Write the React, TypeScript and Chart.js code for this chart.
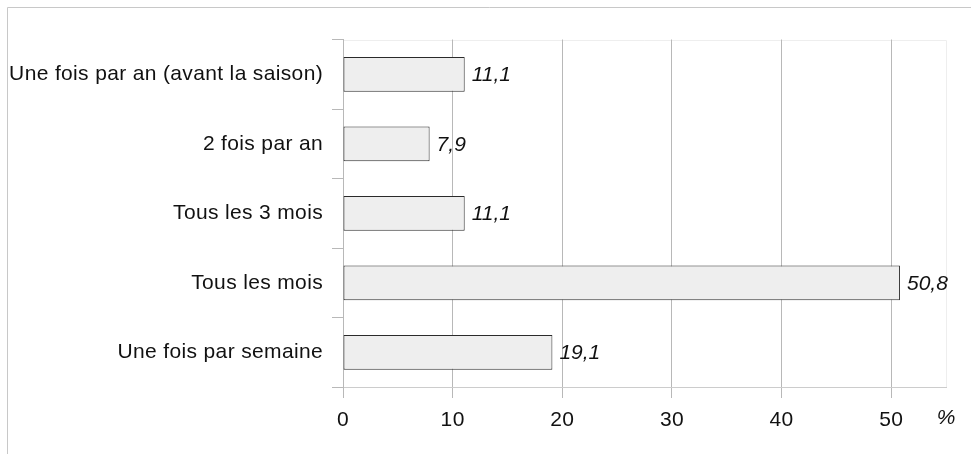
import React, { useEffect, useRef } from "react";
import { Chart, registerables } from "chart.js";

Chart.register(...registerables);

const categories = [
  "Une fois par an (avant la saison)",
  "2 fois par an",
  "Tous les 3 mois",
  "Tous les mois",
  "Une fois par semaine",
];
const values = [11.1, 7.9, 11.1, 50.8, 19.1];
const xMin = 0;
const xMax = 55;
const xStep = 10;
const axisUnit = "%";

const FONT = "'Liberation Sans', Arial, sans-serif";
const FONT_SIZE = 21;
const TEXT = "#111111";

const fmt = (v: number) => v.toFixed(1).replace(".", ",");

const decorPlugin = {
  id: "decor",
  beforeDraw(chart: any) {
    const { ctx, chartArea } = chart;
    ctx.save();
    ctx.fillStyle = "#ffffff";
    ctx.fillRect(0, 0, chart.width, chart.height);
    ctx.strokeStyle = "#c8c8c8";
    ctx.lineWidth = 1;
    ctx.beginPath();
    ctx.moveTo(7.5, chart.height);
    ctx.lineTo(7.5, 7.5);
    ctx.lineTo(chart.width, 7.5);
    ctx.stroke();
    ctx.strokeStyle = "#eeeeee";
    ctx.beginPath();
    ctx.moveTo(chartArea.left, Math.round(chartArea.top) + 0.5);
    ctx.lineTo(Math.round(chartArea.right) + 0.5, Math.round(chartArea.top) + 0.5);
    ctx.lineTo(Math.round(chartArea.right) + 0.5, chartArea.bottom);
    ctx.stroke();
    ctx.restore();
    ctx.letterSpacing = "0.35px";
  },
  beforeDatasetsDraw(chart: any) {
    chart.ctx.letterSpacing = "0px";
  },
  afterDatasetsDraw(chart: any) {
    const { ctx } = chart;
    const meta = chart.getDatasetMeta(0);
    ctx.save();
    ctx.font = `italic ${FONT_SIZE}px ${FONT}`;
    ctx.fillStyle = TEXT;
    ctx.textAlign = "left";
    ctx.textBaseline = "middle";
    meta.data.forEach((bar: any, i: number) => {
      ctx.fillText(fmt(values[i]), bar.x + 7, bar.y + 1);
    });
    ctx.restore();
  },
  afterDraw(chart: any) {
    const { ctx, chartArea } = chart;
    ctx.save();
    ctx.font = `italic ${FONT_SIZE}px ${FONT}`;
    ctx.fillStyle = TEXT;
    ctx.textAlign = "center";
    ctx.textBaseline = "middle";
    ctx.fillText(axisUnit, chartArea.right, 418);
    ctx.restore();
  },
};

export default function App() {
  const ref = useRef<HTMLCanvasElement | null>(null);

  useEffect(() => {
    if (!ref.current) return;
    const chart = new Chart(ref.current, {
      type: "bar",
      data: {
        labels: categories,
        datasets: [
          {
            data: values,
            backgroundColor: "#eeeeee",
            borderColor: "#2a2a2a",
            borderWidth: 1,
            borderSkipped: false,
            categoryPercentage: 1,
            barPercentage: 0.5,
          },
        ],
      },
      options: {
        indexAxis: "y",
        responsive: false,
        animation: false,
        devicePixelRatio: 1,
        layout: { padding: { top: 39.5, right: 25, left: 0, bottom: 0 } },
        plugins: {
          legend: { display: false },
          tooltip: { enabled: false },
        },
        scales: {
          x: {
            type: "linear",
            min: xMin,
            max: xMax,
            afterFit: (s: any) => {
              s.height = 67;
            },
            ticks: {
              stepSize: xStep,
              includeBounds: false,
              color: TEXT,
              font: { family: FONT, size: FONT_SIZE },
              padding: 10,
            },
            grid: {
              color: "#b8b8b8",
              tickLength: 11,
              drawTicks: true,
            },
            border: { display: true, color: "#cccccc" },
          },
          y: {
            type: "category",
            afterFit: (s: any) => {
              s.width = 343;
            },
            ticks: {
              color: TEXT,
              font: { family: FONT, size: FONT_SIZE },
              padding: 9,
            },
            grid: {
              offset: true,
              drawOnChartArea: false,
              drawTicks: true,
              tickLength: 11,
              color: "#b8b8b8",
            },
            border: { display: true, color: "#b8b8b8" },
          },
        },
      },
      plugins: [decorPlugin],
    });
    return () => chart.destroy();
  }, []);

  return (
    <div style={{ position: "fixed", left: 0, top: 0, width: 971, height: 454, background: "#fff" }}>
      <canvas ref={ref} width={971} height={454} style={{ display: "block" }} />
    </div>
  );
}
